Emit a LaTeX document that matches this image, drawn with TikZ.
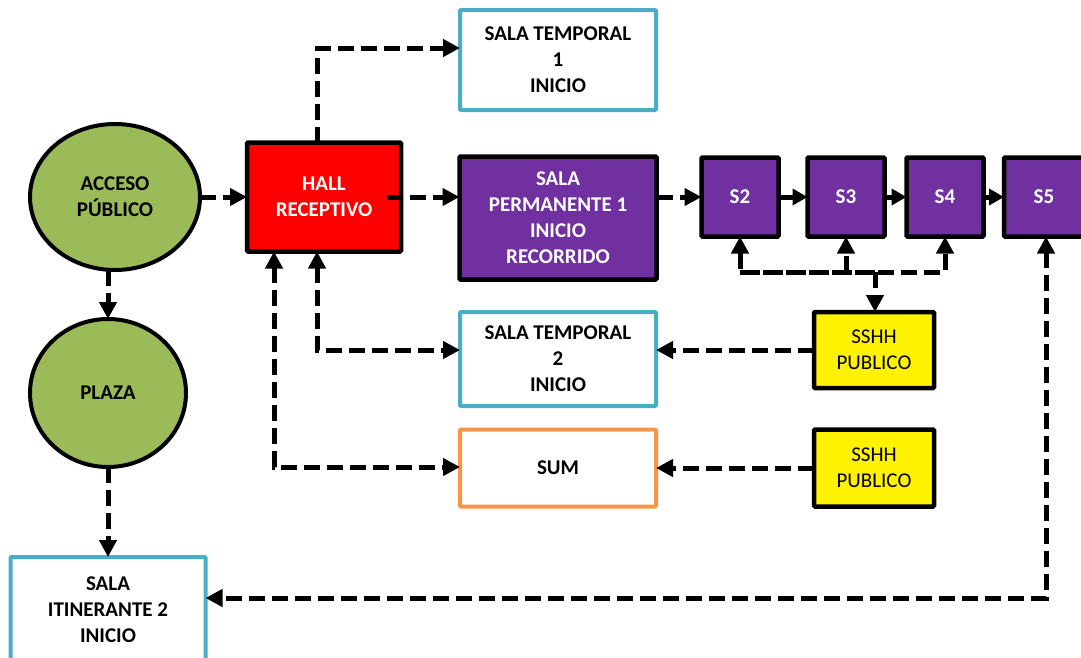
\documentclass[tikz,border=0pt]{standalone}
\usepackage{fontspec}
\setmainfont{Carlito}
\usetikzlibrary{arrows.meta,shapes.geometric}
\definecolor{cgreen}{HTML}{9BBB59}
\definecolor{cpurple}{HTML}{7030A0}
\definecolor{ccyan}{HTML}{4BACC6}
\definecolor{corange}{HTML}{F79646}
\tikzset{
  lbl/.style={font=\fontsize{21}{26}\selectfont\bfseries, align=center, inner sep=0pt, outer sep=0pt},
  ell/.style={lbl, ellipse, draw=black, line width=4pt, fill=cgreen},
  blk/.style={lbl, rectangle, draw=black, line width=4.5pt, rounded corners=1pt},
  cyanbox/.style={lbl, rectangle, draw=ccyan, line width=4pt, fill=white, rounded corners=1pt},
  orbox/.style={lbl, rectangle, draw=corange, line width=4pt, fill=white, rounded corners=1pt},
  pbox/.style={blk, fill=cpurple, text=white},
  ybox/.style={blk, fill=yellow, font=\fontsize{21}{26}\selectfont},
  conn/.style={line width=5pt, dash pattern=on 16pt off 7pt, -{Triangle[length=17pt,width=17pt]}},
  conn2/.style={conn, {Triangle[length=17pt,width=17pt]}-{Triangle[length=17pt,width=17pt]}},
  solidarr/.style={line width=5pt, -{Triangle[length=15pt,width=16pt]}},
}
\begin{document}
\begin{tikzpicture}[x=1pt,y=-1pt]
\useasboundingbox (0,0) rectangle (1081,657);
% nodes
\node[ell, minimum width=170pt, minimum height=146pt] (acc) at (115,197) {ACCESO\\PÚBLICO};
\node[ell, minimum width=156pt, minimum height=148pt] (plaza) at (108,393) {PLAZA};
\node[cyanbox, minimum width=195pt, minimum height=106pt] (itin) at (108,610) {SALA\\ITINERANTE 2\\INICIO};
\node[blk, fill=red, text=white, minimum width=154pt, minimum height=109pt] (hall) at (324,197) {HALL\\RECEPTIVO};
\node[cyanbox, minimum width=196pt, minimum height=100pt] (st1) at (558,60) {SALA TEMPORAL\\1\\INICIO};
\node[pbox, minimum width=197pt, minimum height=123pt] (sp1) at (558,218) {SALA\\PERMANENTE 1\\INICIO\\RECORRIDO};
\node[pbox, minimum width=77pt, minimum height=79pt] (s2) at (740,197) {S2};
\node[pbox, minimum width=77pt, minimum height=79pt] (s3) at (846,197) {S3};
\node[pbox, minimum width=77pt, minimum height=79pt] (s4) at (945,197) {S4};
\node[pbox, minimum width=80pt, minimum height=79pt] (s5) at (1044,197) {S5};
\node[cyanbox, minimum width=196pt, minimum height=94pt] (st2) at (558,359) {SALA TEMPORAL\\2\\INICIO};
\node[orbox, minimum width=196pt, minimum height=77pt] (sum) at (558,468) {SUM};
\node[ybox, minimum width=120pt, minimum height=76pt] (ss1) at (874,350) {SSHH\\PUBLICO};
\node[ybox, minimum width=120pt, minimum height=77pt] (ss2) at (874,468) {SSHH\\PUBLICO};
% coordinates
\coordinate (busL) at (740,272);
\coordinate (busM) at (875,272);
\coordinate (busR) at (945,272);
\coordinate (ht) at (317,48);
\coordinate (h2) at (317,350);
\coordinate (h3) at (274,467);
\coordinate (c5) at (1046,598);
% connectors
\draw[conn] (acc.east) -- (hall.west);
\draw[conn] ([xshift=-14pt]hall.east) -- (sp1.west |- hall.east);
\draw[conn] (hall.north -| ht) -- (ht) -- (st1.west |- ht);
\draw[conn] (plaza.north |- acc.south) -- (plaza.north);
\draw[conn] (plaza.south) -- (itin.north);
\draw[conn] (sp1.east |- s2.west) -- (s2.west);
\draw[solidarr] (s2.east) -- (s3.west);
\draw[solidarr] (s3.east) -- (s4.west);
\draw[solidarr] (s4.east) -- (s5.west);
\draw[conn] (busM) -- (ss1.north -| busM);
\draw[conn] (busM) -- (busL) -- (s2.south);
\draw[conn] (busL) -- (busR) -- (s4.south);
\draw[conn] (busM -| s3.south) -- (s3.south);
\draw[conn] (ss1.west) -- (st2.east |- ss1.west);
\draw[conn] (ss2.west) -- (sum.east);
\draw[conn2] (hall.south -| h2) -- (h2) -- (st2.west |- h2);
\draw[conn2] (hall.south -| h3) -- (h3) -- (sum.west |- h3);
\draw[conn2] (s5.south -| c5) -- (c5) -- (itin.east |- c5);
\end{tikzpicture}
\end{document}
